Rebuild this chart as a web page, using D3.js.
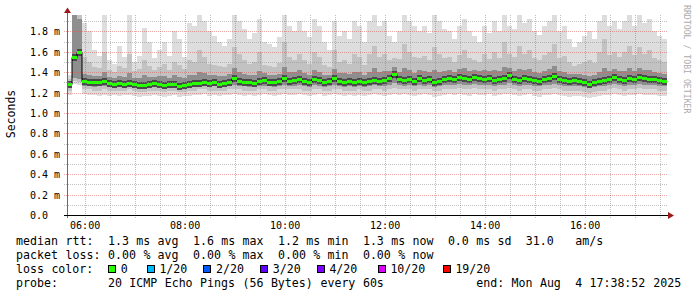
<!DOCTYPE html>
<html>
<head>
<meta charset="utf-8">
<script src="https://cdn.jsdelivr.net/npm/d3@7"></script>
<style>
  body { margin: 0; background: #fff; }
  svg { display: block; }
  text { font-family: "DejaVu Sans Mono", monospace; }
</style>
</head>
<body>
<div id="chart"></div>
<script>
//Width and height
var w = 697;
var h = 297;

//12 hours of pings, one slot every 6 minutes, ending at the graph end time
var endTime = new Date(2025, 7, 4, 17, 38, 52);
var slotMinutes = 6;

//median rtt per slot (ms)
var median = [
  1.28,1.55,1.60,1.31,1.30,1.30,1.30,1.31,1.29,1.28,
  1.29,1.28,1.29,1.28,1.27,1.27,1.28,1.29,1.28,1.27,
  1.28,1.28,1.26,1.27,1.28,1.29,1.29,1.30,1.29,1.30,
  1.28,1.29,1.30,1.34,1.31,1.30,1.30,1.29,1.31,1.32,
  1.30,1.30,1.31,1.34,1.31,1.32,1.33,1.31,1.30,1.33,
  1.32,1.30,1.31,1.34,1.31,1.30,1.31,1.30,1.31,1.30,
  1.31,1.32,1.31,1.32,1.34,1.38,1.33,1.32,1.33,1.31,
  1.34,1.32,1.33,1.30,1.31,1.33,1.34,1.33,1.35,1.34,
  1.33,1.35,1.34,1.33,1.34,1.32,1.33,1.34,1.37,1.33,
  1.32,1.34,1.33,1.32,1.31,1.33,1.34,1.36,1.33,1.32,
  1.31,1.32,1.31,1.30,1.28,1.30,1.31,1.32,1.33,1.35,
  1.33,1.32,1.34,1.33,1.35,1.34,1.33,1.33,1.32,1.31
];

//slowest ping per slot (ms), top of the light smoke
var pingMax = [
  1.37,1.96,1.96,1.88,1.80,1.62,1.56,1.96,1.52,1.48,
  1.66,1.55,1.96,1.50,1.56,1.83,1.70,1.54,1.62,1.70,
  1.56,1.80,1.72,1.55,1.88,1.85,1.96,1.90,1.80,1.75,
  1.70,1.66,1.72,1.96,1.90,1.82,1.72,1.78,1.92,1.70,
  1.68,1.65,1.74,1.96,1.85,1.80,1.90,1.80,1.74,1.92,
  1.85,1.70,1.62,1.90,1.75,1.80,1.72,1.90,1.85,1.70,
  1.90,1.96,1.85,1.90,1.75,1.70,1.80,1.96,1.90,1.85,
  1.80,1.85,1.78,1.96,1.90,1.82,1.80,1.72,1.85,1.92,
  1.80,1.75,1.70,1.85,1.78,1.90,1.80,1.96,1.85,1.82,
  1.96,1.88,1.92,1.80,1.76,1.85,1.90,1.96,1.80,1.85,
  1.72,1.65,1.70,1.75,1.80,1.72,1.90,1.96,1.85,1.90,
  1.82,1.90,1.96,1.85,1.96,1.88,1.92,1.80,1.75,1.72
];

//upper smoke levels (ms)
var pingHigh = [
  1.33,1.96,1.96,1.55,1.50,1.45,1.44,1.60,1.42,1.40,
  1.46,1.44,1.58,1.41,1.43,1.52,1.46,1.42,1.45,1.48,
  1.42,1.50,1.47,1.43,1.52,1.50,1.62,1.55,1.48,1.47,
  1.46,1.45,1.48,1.65,1.58,1.52,1.48,1.50,1.60,1.47,
  1.46,1.45,1.49,1.70,1.55,1.52,1.58,1.52,1.48,1.60,
  1.55,1.47,1.45,1.62,1.50,1.52,1.48,1.58,1.55,1.47,
  1.58,1.66,1.55,1.58,1.52,1.54,1.53,1.68,1.60,1.55,
  1.54,1.56,1.52,1.65,1.58,1.54,1.55,1.50,1.57,1.62,
  1.54,1.52,1.50,1.58,1.53,1.60,1.54,1.70,1.58,1.55,
  1.66,1.58,1.62,1.54,1.52,1.57,1.60,1.68,1.54,1.56,
  1.50,1.46,1.48,1.50,1.52,1.49,1.60,1.72,1.57,1.60,
  1.55,1.60,1.66,1.57,1.65,1.58,1.62,1.54,1.52,1.50
];

var pingUpper = [
  1.31,1.96,1.92,1.38,1.37,1.36,1.36,1.40,1.35,1.34,
  1.36,1.35,1.39,1.34,1.34,1.37,1.35,1.35,1.36,1.36,
  1.34,1.37,1.35,1.34,1.37,1.37,1.40,1.39,1.37,1.37,
  1.36,1.36,1.38,1.44,1.40,1.38,1.37,1.37,1.41,1.39,
  1.37,1.37,1.38,1.45,1.40,1.40,1.42,1.39,1.37,1.42,
  1.40,1.37,1.37,1.43,1.39,1.39,1.38,1.40,1.40,1.37,
  1.40,1.44,1.40,1.41,1.41,1.45,1.40,1.44,1.42,1.39,
  1.42,1.41,1.40,1.42,1.40,1.41,1.42,1.40,1.43,1.44,
  1.41,1.42,1.41,1.42,1.41,1.42,1.41,1.45,1.44,1.41,
  1.43,1.42,1.43,1.40,1.39,1.41,1.43,1.46,1.41,1.40,
  1.38,1.38,1.38,1.37,1.36,1.37,1.40,1.44,1.41,1.43,
  1.41,1.41,1.44,1.41,1.44,1.42,1.42,1.40,1.39,1.38
];

//lower smoke levels (ms)
var pingLower = [
  1.25,1.34,1.33,1.26,1.26,1.25,1.26,1.26,1.25,1.25,
  1.25,1.25,1.26,1.25,1.24,1.24,1.25,1.25,1.25,1.24,
  1.25,1.25,1.24,1.24,1.25,1.25,1.26,1.26,1.25,1.26,
  1.25,1.25,1.26,1.27,1.26,1.26,1.25,1.25,1.26,1.26,
  1.26,1.25,1.26,1.27,1.26,1.26,1.27,1.26,1.25,1.27,
  1.26,1.25,1.26,1.27,1.26,1.25,1.26,1.25,1.26,1.25,
  1.26,1.27,1.26,1.26,1.27,1.29,1.27,1.26,1.27,1.26,
  1.27,1.26,1.27,1.25,1.26,1.27,1.27,1.27,1.28,1.27,
  1.27,1.28,1.27,1.27,1.27,1.26,1.27,1.27,1.29,1.27,
  1.26,1.27,1.27,1.26,1.26,1.27,1.27,1.28,1.27,1.26,
  1.26,1.26,1.26,1.25,1.24,1.25,1.26,1.26,1.27,1.28,
  1.27,1.26,1.27,1.27,1.28,1.27,1.27,1.27,1.26,1.26
];

var pingLow = [
  1.22,1.31,1.30,1.23,1.23,1.22,1.22,1.23,1.22,1.22,
  1.22,1.22,1.23,1.22,1.21,1.21,1.22,1.22,1.22,1.21,
  1.22,1.22,1.21,1.21,1.22,1.22,1.23,1.23,1.22,1.22,
  1.22,1.22,1.23,1.23,1.23,1.22,1.22,1.22,1.23,1.23,
  1.22,1.22,1.23,1.23,1.23,1.23,1.23,1.22,1.22,1.23,
  1.23,1.22,1.22,1.23,1.23,1.22,1.22,1.22,1.23,1.22,
  1.22,1.23,1.23,1.22,1.23,1.24,1.23,1.23,1.23,1.22,
  1.23,1.23,1.23,1.22,1.22,1.23,1.23,1.23,1.24,1.23,
  1.23,1.24,1.23,1.23,1.23,1.22,1.23,1.23,1.24,1.23,
  1.22,1.23,1.23,1.22,1.22,1.23,1.23,1.24,1.23,1.22,
  1.22,1.22,1.22,1.21,1.20,1.21,1.22,1.22,1.23,1.24,
  1.23,1.22,1.23,1.23,1.24,1.23,1.23,1.23,1.22,1.22
];

//fastest ping per slot (ms)
var pingMin = [
  1.18,1.28,1.27,1.19,1.18,1.18,1.17,1.18,1.17,1.18,
  1.17,1.18,1.18,1.17,1.16,1.17,1.17,1.18,1.17,1.16,
  1.17,1.18,1.16,1.17,1.17,1.18,1.18,1.19,1.17,1.18,
  1.17,1.18,1.18,1.19,1.18,1.17,1.18,1.17,1.18,1.19,
  1.18,1.17,1.18,1.19,1.18,1.18,1.19,1.18,1.17,1.18,
  1.19,1.17,1.18,1.19,1.18,1.17,1.18,1.17,1.18,1.17,
  1.18,1.19,1.18,1.17,1.18,1.19,1.18,1.19,1.18,1.17,
  1.18,1.19,1.18,1.16,1.17,1.18,1.19,1.18,1.19,1.18,
  1.17,1.19,1.18,1.18,1.19,1.17,1.18,1.19,1.19,1.18,
  1.17,1.18,1.19,1.17,1.16,1.18,1.18,1.19,1.18,1.17,
  1.16,1.17,1.17,1.16,1.15,1.16,1.17,1.18,1.18,1.19,
  1.18,1.17,1.18,1.18,1.19,1.18,1.18,1.18,1.17,1.17
];

//y axis labels
var yTickValues = [0, 0.2, 0.4, 0.6, 0.8, 1.0, 1.2, 1.4, 1.6, 1.8];
var yTickLabels = ["0.0", "0.2 m", "0.4 m", "0.6 m", "0.8 m", "1.0 m", "1.2 m", "1.4 m", "1.6 m", "1.8 m"];

//legend texts
var medianStats = ["1.3 ms avg", "1.6 ms max", "1.2 ms min", "1.3 ms now", "0.0 ms sd", "31.0   am/s"];
var lossStats = ["0.00 % avg", "0.00 % max", "0.00 % min", "0.00 % now"];
var lossLabels = ["0", "1/20", "2/20", "3/20", "4/20", "10/20", "19/20"];
var lossColors = ["#26ff00", "#00b8ff", "#0059ff", "#5e00ff", "#7e00ff", "#dd00ff", "#ff0000"];
var probeText = "20 ICMP Echo Pings (56 Bytes) every 60s";
var endText = "end: Mon Aug  4 17:38:52 2025";

//legend box positions along the loss color line
var lossBoxX = [108, 146.7, 203.3, 260, 316.7, 377.7, 442.7];

//Create SVG element
var svg = d3.select("#chart")
            .append("svg")
            .attr("width", w)
            .attr("height", h);

svg.append("rect").attr("width", w).attr("height", h).attr("fill", "#fff");

var startTime = d3.timeHour.offset(endTime, -12);

var x = d3.scaleTime()
          .domain([startTime, endTime])
          .range([67, 667]);

var y = d3.scaleLinear()
          .domain([0, 1.96])
          .range([215, 15])
          .clamp(true);

var slots = median.map(function(m, i) {
    return {
        t0: d3.timeMinute.offset(startTime, i * slotMinutes),
        t1: d3.timeMinute.offset(startTime, (i + 1) * slotMinutes),
        med: m,
        max: pingMax[i], high: pingHigh[i], upper: pingUpper[i],
        lower: pingLower[i], low: pingLow[i], min: pingMin[i]
    };
});

//smoke, from the outside band to the inside
var bands = [
    { lo: "min", hi: "max", color: "#dddddd" },
    { lo: "low", hi: "high", color: "#c2c2c2" },
    { lo: "lower", hi: "upper", color: "#8e8e8e" }
];

var smoke = svg.append("g").attr("shape-rendering", "crispEdges");

bands.forEach(function(b) {
    smoke.selectAll(null)
        .data(slots)
        .enter()
        .append("rect")
        .attr("x", function(d) { return Math.round(x(d.t0)); })
        .attr("width", function(d) { return Math.round(x(d.t1)) - Math.round(x(d.t0)); })
        .attr("y", function(d) { return Math.round(y(d[b.hi])); })
        .attr("height", function(d) { return Math.round(y(d[b.lo])) - Math.round(y(d[b.hi])); })
        .attr("fill", b.color);
});

//dark core around the median
smoke.selectAll(null)
    .data(slots)
    .enter()
    .append("rect")
    .attr("x", function(d) { return Math.round(x(d.t0)); })
    .attr("width", function(d) { return Math.round(x(d.t1)) - Math.round(x(d.t0)); })
    .attr("y", function(d) { return Math.round(y(d.med)) - 3; })
    .attr("height", 7)
    .attr("fill", "#4a4a4a");

//grid, drawn over the smoke
var grid = svg.append("g").attr("shape-rendering", "crispEdges");

grid.selectAll(null)
    .data(y.ticks(20).filter(function(v) { return v > 0 && yTickValues.indexOf(+v.toFixed(1)) < 0; }))
    .enter()
    .append("line")
    .attr("x1", 64).attr("x2", 667)
    .attr("y1", function(d) { return Math.round(y(d)) + 0.5; })
    .attr("y2", function(d) { return Math.round(y(d)) + 0.5; })
    .attr("stroke", "rgba(143,143,143,0.55)")
    .attr("stroke-dasharray", "1,1");

grid.selectAll(null)
    .data(d3.timeMinute.every(30).range(startTime, endTime).filter(function(d) { return d.getMinutes() === 30; }))
    .enter()
    .append("line")
    .attr("y1", 15).attr("y2", 218)
    .attr("x1", function(d) { return Math.round(x(d)) + 0.5; })
    .attr("x2", function(d) { return Math.round(x(d)) + 0.5; })
    .attr("stroke", "rgba(143,143,143,0.55)")
    .attr("stroke-dasharray", "1,1");

grid.selectAll(null)
    .data(yTickValues.slice(1))
    .enter()
    .append("line")
    .attr("x1", 64).attr("x2", 667)
    .attr("y1", function(d) { return Math.round(y(d)) + 0.5; })
    .attr("y2", function(d) { return Math.round(y(d)) + 0.5; })
    .attr("stroke", "rgba(222,80,80,0.5)")
    .attr("stroke-dasharray", "1,1");

grid.selectAll(null)
    .data(d3.timeHour.range(startTime, endTime))
    .enter()
    .append("line")
    .attr("y1", 15).attr("y2", 218)
    .attr("x1", function(d) { return Math.round(x(d)) + 0.5; })
    .attr("x2", function(d) { return Math.round(x(d)) + 0.5; })
    .attr("stroke", "rgba(222,80,80,0.5)")
    .attr("stroke-dasharray", "1,1");

//median line and loss coloured marks
var medLine = d3.line()
    .curve(d3.curveStepAfter)
    .x(function(d) { return x(d.t0); })
    .y(function(d) { return Math.round(y(d.med)) + 0.5; });

svg.append("path")
    .datum(slots.concat([{ t0: endTime, med: median[median.length - 1] }]))
    .attr("d", medLine)
    .attr("fill", "none")
    .attr("stroke", "#000")
    .attr("stroke-width", 1);

svg.append("g")
    .attr("shape-rendering", "crispEdges")
    .selectAll("rect")
    .data(slots)
    .enter()
    .append("rect")
    .attr("x", function(d) { return Math.round(x(d.t0)); })
    .attr("width", function(d) { return Math.round(x(d.t1)) - Math.round(x(d.t0)); })
    .attr("y", function(d) { return Math.round(y(d.med)) - 1; })
    .attr("height", 3)
    .attr("fill", lossColors[0]);

//axes
var xAxis = d3.axisBottom(x)
    .tickValues(d3.timeHour.every(2).range(startTime, endTime))
    .tickFormat(d3.timeFormat("%H:%M"))
    .tickSize(0)
    .tickPadding(0);

var gx = svg.append("g")
    .attr("transform", "translate(0,215)")
    .call(xAxis);
gx.select(".domain").remove();
gx.selectAll("text")
    .attr("y", 13.5)
    .attr("dy", null)
    .attr("font-size", "10px")
    .attr("font-family", "DejaVu Sans Mono")
    .attr("fill", "#000");

var yAxis = d3.axisLeft(y)
    .tickValues(yTickValues)
    .tickFormat(function(d, i) { return yTickLabels[i]; })
    .tickSize(0);

var gy = svg.append("g")
    .attr("transform", "translate(67,0)")
    .call(yAxis);
gy.select(".domain").remove();
gy.selectAll("text")
    .attr("x", -37)
    .attr("dy", "0.35em")
    .attr("text-anchor", "start")
    .attr("font-size", "10px")
    .attr("font-family", "DejaVu Sans Mono")
    .attr("fill", "#000");

var axes = svg.append("g").attr("shape-rendering", "crispEdges");
axes.append("line")
    .attr("x1", 67.5).attr("x2", 67.5)
    .attr("y1", 218).attr("y2", 11)
    .attr("stroke", "#6a6a6a");
axes.append("line")
    .attr("x1", 64).attr("x2", 669)
    .attr("y1", 215.5).attr("y2", 215.5)
    .attr("stroke", "#000");

svg.append("path")
    .attr("d", "M64,13L67.5,7.5L71,13Z")
    .attr("fill", "#9c1a1a");
svg.append("path")
    .attr("d", "M668,212L674,215.5L668,219Z")
    .attr("fill", "#9c1a1a");

//labels
svg.append("text")
    .attr("transform", "translate(15,114) rotate(-90)")
    .attr("text-anchor", "middle")
    .attr("font-size", "11.5px")
    .text("Seconds");

svg.append("text")
    .attr("transform", "translate(683.5,5) rotate(90)")
    .attr("font-size", "8.2px")
    .attr("fill", "#ababab")
    .text("RRDTOOL / TOBI OETIKER");

//legend, laid out on a monospace column grid
var colW = 7.08;
var legendX = 16;

function putLine(str, yPos, offsetX) {
    var re = /\S+/g, m;
    while ((m = re.exec(str)) !== null) {
        svg.append("text")
            .attr("x", (offsetX || legendX) + m.index * colW)
            .attr("y", yPos)
            .attr("font-size", "11.6px")
            .attr("fill", "#000")
            .text(m[0]);
    }
}

putLine("median rtt:  " + medianStats.join("  "), 245);
putLine("packet loss: " + lossStats.join("  "), 259);
putLine("loss color:", 273);
putLine("probe:       " + probeText, 287);
putLine(endText, 287, legendX + 65 * colW);

lossLabels.forEach(function(lbl, i) {
    svg.append("rect")
        .attr("x", lossBoxX[i] + 0.5)
        .attr("y", 265.5)
        .attr("width", 7)
        .attr("height", 7)
        .attr("fill", lossColors[i])
        .attr("stroke", "#000")
        .attr("shape-rendering", "crispEdges");
    svg.append("text")
        .attr("x", lossBoxX[i] + 12.7)
        .attr("y", 273)
        .attr("font-size", "11.6px")
        .attr("fill", "#000")
        .text(lbl);
});
</script>
</body>
</html>
